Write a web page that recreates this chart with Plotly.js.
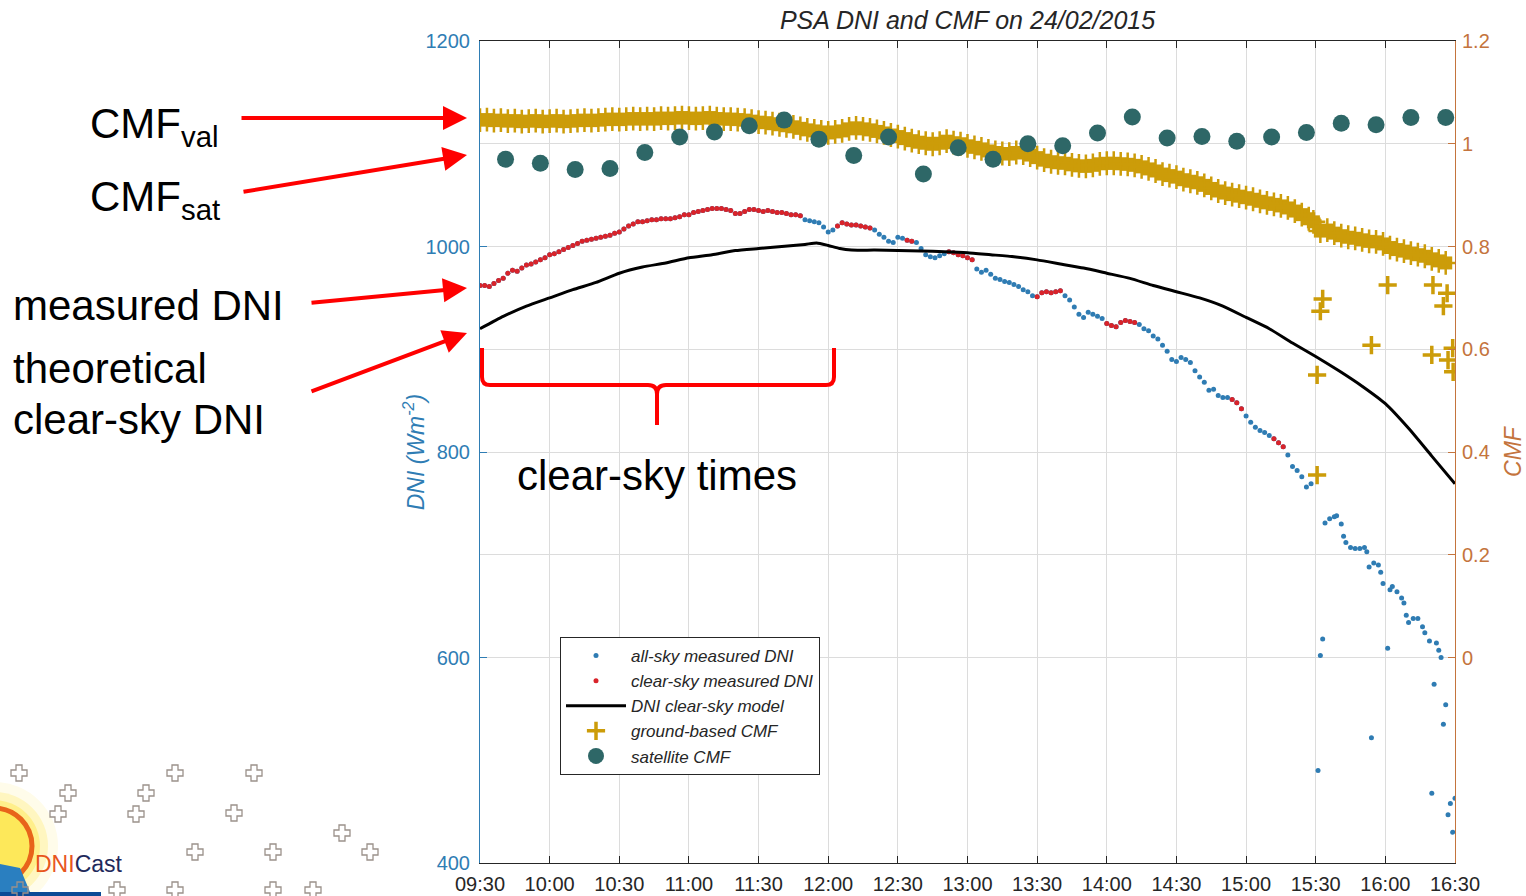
<!DOCTYPE html>
<html>
<head>
<meta charset="utf-8">
<script src="https://cdn.plot.ly/plotly-3.0.1.min.js"></script>
<style>html,body{margin:0;padding:0;background:#fff;}#chart{width:1526px;height:896px;}</style>
</head>
<body>
<div id="chart"></div>
<script>
// ---------------- DATA (minutes after 09:30) ----------------
const dniMinute = [
  0,2,4,6,8,10,12,14,16,18,
  20,22,24,26,28,30,32,34,36,38,
  40,42,44,46,48,50,52,54,56,58,
  60,62,64,66,68,70,72,74,76,78,
  80,82,84,86,88,90,92,94,96,98,
  100,102,104,106,108,110,112,114,116,118,
  120,122,124,126,128,130,132,134,136,138,
  140,142,144,146,148,150,152,154,156,158,
  160,162,164,166,168,170,172,174,176,178,
  180,182,184,186,188,190,192,194,196,198,
  200,202,204,206,208,210,212,214,216,218,
  220,222,224,226,228,230,232,234,236,238,
  240,242,244,246,248,250,252,254,256,258,
  260,262,264,266,268,270,272,274,276,278,
  280,282,284,286,288,290,292,294,296,298,
  300,302,304,306,308,310,312,314,316,318,
  320,322,324,326,328,330,332,334,336,338,
  340,342,344,346,348,350,352,354,356,358,
  361,362,363,364,366,368,369,371,372,373,
  375,377,379,381,382,383,384,385,387,388,
  389,391,392,393,395,397,398,399,400,402,
  404,406,407,409,410,411,412,413,414,415,
  416,417,418,419,420
];
const dniValue = [
  962,962,961,964,967,969,974,977,976,979,
  982,983,985,987,989,992,993,995,997,999,
  1001,1003,1005,1006,1007,1008,1009,1010,1011,1013,
  1014,1017,1020,1022,1024,1024,1025,1026,1026,1027,
  1027,1027,1028,1029,1031,1031,1033,1034,1035,1036,
  1037,1037,1037,1036,1035,1032,1032,1034,1036,1036,
  1035,1034,1035,1034,1033,1033,1032,1031,1031,1030,
  1026,1025,1024,1023,1019,1014,1016,1020,1023,1022,
  1021,1021,1020,1019,1018,1016,1012,1009,1005,1004,
  1009,1008,1006,1005,1004,998,992,990,989,991,
  993,995,994,992,991,989,987,978,975,977,
  973,969,968,966,965,963,961,958,956,952,
  951,955,956,955,956,957,952,948,941,934,
  931,936,934,932,930,925,923,922,926,928,
  927,926,924,920,918,913,910,904,898,890,
  888,892,890,887,879,873,868,860,861,855,
  853,853,851,848,842,835,829,824,821,819,
  816,813,809,805,797,786,782,776,766,769,
  490,602,618,731,735,737,738,730,718,712,
  707,706,706,707,703,688,522,692,690,683,
  672,609,666,669,664,658,653,641,634,638,
  638,630,624,616,468,574,614,607,600,535,
  554,447,458,430,463
];
// periods flagged as clear-sky (minutes after 09:30)
const clearIntervals = [[0,138],[154,168],[184,186],[202,212],[240,250],[270,282],[324,328],[342,346]];

const modelMinute = [0,10,20,30,40,50,60,70,80,90,100,110,120,130,140,145,150,155,160,170,180,190,200,210,220,230,240,250,260,270,280,290,300,310,320,330,340,350,360,370,380,390,400,410,420];
const modelValue  = [920,932,942,950,958,965,974,980,984,989,992,996,998,1000,1002,1003.5,1001,998,996.5,996.5,996,995.5,995,994,992,990,987,983,979,974,969,962,956,950,942,931,920,906,893,879,864,847,823,796,769];

// ground-based CMF: continuous record
const groundBandMinute = [
  0,3,6,9,12,15,18,21,24,27,30,33,36,39,42,45,48,51,54,57,
  60,63,66,69,72,75,78,81,84,87,90,93,96,99,102,105,108,111,114,117,
  120,123,126,129,132,135,138,141,144,147,150,153,156,159,162,165,168,171,174,177,
  180,183,186,189,192,195,198,201,204,207,210,213,216,219,222,225,228,231,234,237,
  240,243,246,249,252,255,258,261,264,267,270,273,276,279,282,285,288,291,294,297,
  300,303,306,309,312,315,318,321,324,327,330,333,336,339,342,345,348,351,354,357,359,
  362,365,368,371,374,377,380,383,386,389,392,395,398,401,404,407,410,413,416
];
const groundBandValue = [
  1.046,1.047,1.045,1.046,1.044,1.045,1.043,1.044,1.045,1.043,1.044,1.045,1.043,1.044,1.045,1.046,1.045,1.046,1.047,1.048,
  1.047,1.048,1.049,1.048,1.049,1.048,1.050,1.049,1.050,1.051,1.050,1.049,1.050,1.051,1.049,1.048,1.048,1.047,1.046,1.044,
  1.042,1.041,1.039,1.037,1.035,1.033,1.030,1.027,1.025,1.023,1.021,1.023,1.025,1.029,1.031,1.029,1.027,1.024,1.021,1.017,
  1.014,1.010,1.006,1.003,1.001,0.999,1.001,1.005,1.002,1.000,0.996,0.993,0.990,0.986,0.983,0.981,0.980,0.983,0.982,0.978,
  0.973,0.968,0.965,0.963,0.962,0.959,0.957,0.956,0.958,0.961,0.962,0.962,0.961,0.960,0.958,0.955,0.951,0.947,0.941,0.938,
  0.935,0.930,0.927,0.924,0.919,0.913,0.908,0.904,0.901,0.898,0.895,0.892,0.888,0.885,0.882,0.879,0.875,0.869,0.862,0.854,0.848,
  0.830,0.832,0.826,0.821,0.818,0.816,0.813,0.810,0.809,0.805,0.798,0.794,0.791,0.787,0.784,0.781,0.776,0.772,0.768
];
// ground-based CMF: scattered late-afternoon values
const groundSparseMinute = [360.6,360.6,362,363,384,391,410,410.5,415,416.6,417,419,419.2];
const groundSparseValue  = [0.550,0.355,0.674,0.698,0.608,0.725,0.589,0.725,0.684,0.709,0.579,0.602,0.556];

const satMinute = [11,26,41,56,71,86,101,116,131,146,161,176,191,206,221,236,251,266,281,296,311,326,341,356,371,386,401,416];
const satValue  = [0.970,0.962,0.950,0.952,0.983,1.013,1.023,1.035,1.046,1.009,0.977,1.013,0.941,0.992,0.970,1.000,0.996,1.021,1.052,1.011,1.014,1.005,1.013,1.022,1.040,1.037,1.051,1.051];

const dniTicks = [400,600,800,1000,1200];
const cmfTicks = [0,0.2,0.4,0.6,0.8,1,1.2];
const cmfTickText = ['0','0.2','0.4','0.6','0.8','1','1.2'];
const seriesNames = ['all-sky measured DNI','clear-sky measured DNI','DNI clear-sky model','ground-based CMF','satellite CMF'];
const chartTitle = 'PSA DNI and CMF on 24/02/2015';

// ---------------- BUILD ----------------
const BASE = Date.UTC(2015,1,24,9,30,0);
const toX = m => BASE + m*60000;
const isClear = m => clearIntervals.some(iv => m >= iv[0] && m <= iv[1]);

const clearMin = [], clearVal = [];
dniMinute.forEach((m,i) => { if (isClear(m)) { clearMin.push(m); clearVal.push(dniValue[i]); } });

const BLUE = '#2f7cb3', RED = '#d9232a', GOLD = '#cc9c09', TEAL = '#2e6767';
const LEFTC = '#2f7db4', RIGHTC = '#c4743d', DARK = '#262626';
const FONT = 'Liberation Sans, Arial, Helvetica, sans-serif';

const bandXs = groundBandMinute.map(toX);
const traces = [
  {type:'scatter', mode:'markers', name:seriesNames[0], x:dniMinute.map(toX), y:dniValue,
   marker:{color:BLUE, size:5}, yaxis:'y'},
  {type:'scatter', mode:'markers', name:seriesNames[1], x:clearMin.map(toX), y:clearVal,
   marker:{color:RED, size:5}, yaxis:'y'},
  {type:'scatter', mode:'lines', name:seriesNames[2], x:modelMinute.map(toX), y:modelValue,
   line:{color:'#000', width:3, shape:'spline', smoothing:0.5}, yaxis:'y'},
  // dense ground record: solid body + crosses for the ragged edge
  {type:'scatter', mode:'markers', name:'ground band body', showlegend:false, x:bandXs, y:groundBandValue,
   marker:{symbol:'square', size:13, color:GOLD, line:{width:0}}, yaxis:'y2'},
  {type:'scatter', mode:'markers', name:'ground band edge', showlegend:false, x:bandXs, y:groundBandValue,
   marker:{symbol:'cross-thin', size:17, color:GOLD, line:{color:GOLD, width:2.5}}, yaxis:'y2'},
  {type:'scatter', mode:'markers', name:seriesNames[3], x:groundSparseMinute.map(toX), y:groundSparseValue,
   marker:{symbol:'cross-thin', size:13, color:GOLD, line:{color:GOLD, width:3.5}}, yaxis:'y2'},
  {type:'scatter', mode:'markers', name:seriesNames[4], x:satMinute.map(toX), y:satValue,
   marker:{symbol:'circle', size:17, color:TEAL}, yaxis:'y2'}
];

// pixel -> paper helpers (layout decoration only)
const PL=480, PR=1455, PT=41, PB=863;
const X = p => (p-PL)/(PR-PL);
const Y = p => (PB-p)/(PB-PT);

const annotations = [];
function label(text, px, py, size, anchor) {
  annotations.push({xref:'paper', yref:'paper', x:X(px), y:Y(py), text:text, showarrow:false,
    xanchor:anchor||'left', yanchor:'middle', align:'left', font:{family:FONT, size:size, color:'#000'}});
}
label('CMF<sub>val</sub>', 88, 126, 42);
label('CMF<sub>sat</sub>', 88, 199, 42);
label('measured DNI', 11, 305, 42);
label('theoretical', 11, 368, 42);
label('clear-sky DNI', 11, 419, 42);
label('clear-sky times', 515, 475, 42);

function arrow(tx, ty, hx, hy) {
  annotations.push({xref:'paper', yref:'paper', x:X(hx), y:Y(hy), ax:tx-hx, ay:ty-hy, text:'',
    showarrow:true, arrowhead:2, arrowsize:1.2, arrowwidth:4, arrowcolor:'#ff0000', standoff:0, startstandoff:0});
}
arrow(240,118,467,118);
arrow(242,192,467,155);
arrow(310,303,467,288);
arrow(310,392,467,333);

// DNICast logo text
annotations.push({xref:'paper', yref:'paper', x:X(33), y:Y(864), xanchor:'left', yanchor:'middle', showarrow:false,
  text:'<span style="color:#e8561c">DNI</span><span style="color:#1f2a5c">Cast</span>',
  font:{family:FONT, size:23}});

const shapes = [];
// bracket
const P = (x,y) => X(x)+','+Y(y);
shapes.push({type:'path', xref:'paper', yref:'paper', layer:'above',
  path:'M'+P(482,348)+' L'+P(482,377)+' Q'+P(482,385)+' '+P(490,385)+' L'+P(648,385)+' Q'+P(657,385)+' '+P(657,394)+' L'+P(657,425)+
       ' M'+P(657,394)+' Q'+P(657,385)+' '+P(666,385)+' L'+P(826,385)+' Q'+P(834,385)+' '+P(834,377)+' L'+P(834,348),
  line:{color:'#ff0000', width:4}});

// logo glow + sun
[[64,'#fffcea'],[54,'#fff6c0'],[46,'#ffef8a'],[38,'#fde85a']].forEach(c => {
  shapes.push({type:'circle', xref:'paper', yref:'paper', layer:'above', x0:X(-6-c[0]), x1:X(-6+c[0]), y0:Y(846+c[0]), y1:Y(846-c[0]),
    fillcolor:c[1], line:{width:0}});
});
shapes.push({type:'circle', xref:'paper', yref:'paper', layer:'above', x0:X(-44), x1:X(32), y0:Y(884), y1:Y(808),
  fillcolor:'rgba(0,0,0,0)', line:{color:'#e8641a', width:5}});
shapes.push({type:'path', xref:'paper', yref:'paper', layer:'above', path:'M'+P(0,864)+' L'+P(20,868)+' L'+P(30,892)+' L'+P(0,893)+' Z',
  fillcolor:'#2a7fc0', line:{width:0}});
shapes.push({type:'rect', xref:'paper', yref:'paper', layer:'above', x0:X(0), x1:X(101), y0:Y(896), y1:Y(892),
  fillcolor:'#0a4a96', line:{width:0}});
// decorative crosses
function crossPath(cx, cy) {
  const a=8, b=3;
  const pts=[[cx-b,cy-a],[cx+b,cy-a],[cx+b,cy-b],[cx+a,cy-b],[cx+a,cy+b],[cx+b,cy+b],[cx+b,cy+a],[cx-b,cy+a],[cx-b,cy+b],[cx-a,cy+b],[cx-a,cy-b],[cx-b,cy-b]];
  return 'M'+pts.map(p=>P(p[0],p[1])).join(' L')+' Z';
}
[[19,773],[68,793],[58,814],[175,773],[146,793],[136,814],[254,773],[234,813],[342,833],[195,852],[273,852],[370,852],
 [117,890],[175,890],[273,890],[313,890],[20,890]].forEach(c => {
  shapes.push({type:'path', xref:'paper', yref:'paper', layer:'above', path:crossPath(c[0],c[1]),
    fillcolor:'rgba(255,255,255,0)', line:{color:'#9b918a', width:1.3}});
});

const layout = {
  width:1526, height:896,
  margin:{l:480, r:71, t:41, b:33},
  paper_bgcolor:'#fff', plot_bgcolor:'#fff',
  font:{family:FONT, color:DARK},
  showlegend:true,
  title:{text:chartTitle, x:0.5, xref:'paper', xanchor:'center', y:1-20/896, yref:'container', yanchor:'middle',
    font:{family:FONT, size:25, style:'italic', color:DARK}},
  xaxis:{type:'date', range:[toX(0), toX(420)], tick0:toX(0), dtick:1800000, tickformat:'%H:%M',
    ticks:'inside', ticklen:7, tickcolor:DARK, showgrid:true, gridcolor:'#dcdcdc', gridwidth:1,
    showline:true, linecolor:DARK, linewidth:1, mirror:'ticks', zeroline:false, ticklabelstandoff:3,
    tickfont:{family:FONT, size:20, color:DARK}},
  yaxis:{range:[400,1200], tickvals:dniTicks, ticks:'inside', ticklen:7, tickcolor:LEFTC,
    showline:true, linecolor:LEFTC, linewidth:1, showgrid:false, zeroline:false, ticklabelstandoff:5,
    tickfont:{family:FONT, size:20, color:LEFTC},
    title:{text:'DNI (Wm<sup>-2</sup>)', font:{family:FONT, size:23, style:'italic', color:LEFTC}}},
  yaxis2:{overlaying:'y', side:'right', range:[-0.4,1.2], tickvals:cmfTicks, ticktext:cmfTickText,
    ticks:'inside', ticklen:7, tickcolor:RIGHTC, showline:true, linecolor:RIGHTC, linewidth:1,
    showgrid:true, gridcolor:'#dcdcdc', zeroline:false, ticklabelstandoff:2,
    tickfont:{family:FONT, size:20, color:RIGHTC},
    title:{text:'CMF', font:{family:FONT, size:23, style:'italic', color:RIGHTC}}},
  legend:{x:X(560), y:Y(637), xanchor:'left', yanchor:'top', bgcolor:'#fff', bordercolor:DARK, borderwidth:1,
    font:{family:FONT, size:17, style:'italic', color:DARK}, itemwidth:60, tracegroupgap:0},
  annotations:annotations,
  shapes:shapes
};

Plotly.newPlot('chart', traces, layout, {displayModeBar:false, staticPlot:true});
</script>
</body>
</html>
